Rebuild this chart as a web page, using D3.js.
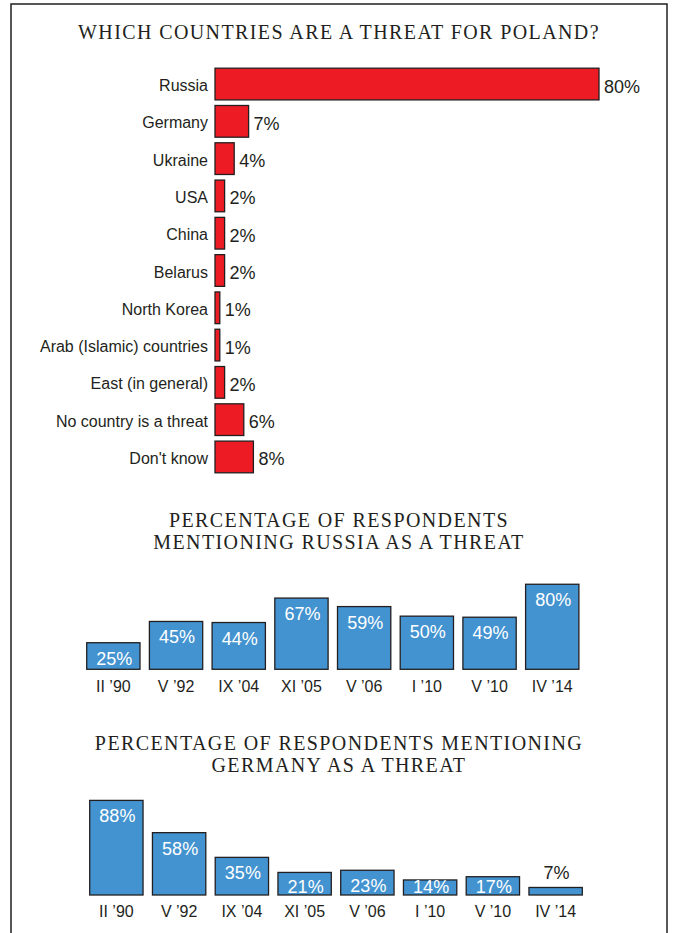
<!DOCTYPE html>
<html>
<head>
<meta charset="utf-8">
<script src="https://cdn.jsdelivr.net/npm/d3@7"></script>
<style>
  body { margin: 0; background: #fff; }
  svg { display: block; }
</style>
</head>
<body>
<script>
// Chart data
var threatCountries = ["Russia", "Germany", "Ukraine", "USA", "China", "Belarus", "North Korea",
  "Arab (Islamic) countries", "East (in general)", "No country is a threat", "Don't know"];
var threatValues = [80, 7, 4, 2, 2, 2, 1, 1, 2, 6, 8];

var surveyDates = ["II ’90", "V ’92", "IX ’04", "XI ’05", "V ’06", "I ’10", "V ’10", "IV ’14"];
var russiaValues = [25, 45, 44, 67, 59, 50, 49, 80];
var germanyValues = [88, 58, 35, 21, 23, 14, 17, 7];

var width = 675;
var height = 933;
var ink = "#231f20";
var red = "#ed1c24";
var blue = "#4393d0";
var sans = "'Liberation Sans', Arial, sans-serif";
var serif = "'Liberation Serif', 'Times New Roman', serif";

var svg = d3.select("body")
  .append("svg")
  .attr("width", width)
  .attr("height", height);

// Frame round the whole graphic (bottom edge falls outside the picture)
svg.append("rect")
  .attr("x", 11)
  .attr("y", 4)
  .attr("width", 656)
  .attr("height", 950)
  .attr("fill", "none")
  .attr("stroke", ink)
  .attr("stroke-width", 1.5);

// Titles, in serif caps
function title(lines, y0) {
  var t = svg.append("text")
    .attr("text-anchor", "middle")
    .attr("font-family", serif)
    .attr("font-size", 20)
    .attr("letter-spacing", 1.4)
    .attr("fill", ink);
  lines.forEach(function(line, i) {
    t.append("tspan")
      .attr("x", 339)
      .attr("y", y0 + i * 22)
      .text(line);
  });
}

title(["WHICH COUNTRIES ARE A THREAT FOR POLAND?"], 39);
title(["PERCENTAGE OF RESPONDENTS", "MENTIONING RUSSIA AS A THREAT"], 527);
title(["PERCENTAGE OF RESPONDENTS MENTIONING", "GERMANY AS A THREAT"], 750);

// ---- Top chart: horizontal bars ----
var xTop = d3.scaleLinear().domain([0, 100]).range([215, 695]);
var yTop = d3.scaleBand()
  .domain(threatCountries)
  .range([65.4, 475.6])
  .paddingInner(0.15)
  .paddingOuter(0.075);

var topData = threatCountries.map(function(c, i) { return { name: c, value: threatValues[i] }; });

svg.append("g")
  .selectAll("rect")
  .data(topData)
  .join("rect")
  .attr("x", xTop(0))
  .attr("y", function(d) { return yTop(d.name); })
  .attr("width", function(d) { return xTop(d.value) - xTop(0); })
  .attr("height", yTop.bandwidth())
  .attr("fill", red)
  .attr("stroke", ink)
  .attr("stroke-width", 1.3);

svg.append("g")
  .selectAll("text")
  .data(topData)
  .join("text")
  .attr("x", function(d) { return xTop(d.value) + 5; })
  .attr("y", function(d) { return yTop(d.name) + yTop.bandwidth() / 2 + 8.5; })
  .attr("font-family", sans)
  .attr("font-size", 18)
  .attr("fill", ink)
  .text(function(d) { return d.value + "%"; });

var catAxis = svg.append("g")
  .attr("transform", "translate(208,0)")
  .call(d3.axisLeft(yTop).tickSize(0).tickPadding(0));
catAxis.select(".domain").remove();
catAxis.selectAll("text")
  .attr("dy", "0.44em")
  .attr("font-family", sans)
  .attr("font-size", 16)
  .attr("fill", ink);

// ---- Column charts ----
function columns(values, x0, x1, base, pxPerPct) {
  var x = d3.scaleBand()
    .domain(surveyDates)
    .range([x0, x1])
    .paddingInner(0.15)
    .paddingOuter(0.075);
  var y = d3.scaleLinear().domain([0, 100]).range([base, base - 100 * pxPerPct]);
  var data = surveyDates.map(function(s, i) { return { date: s, value: values[i] }; });

  var g = svg.append("g");
  g.selectAll("rect")
    .data(data)
    .join("rect")
    .attr("x", function(d) { return x(d.date); })
    .attr("y", function(d) { return y(d.value); })
    .attr("width", x.bandwidth())
    .attr("height", function(d) { return y(0) - y(d.value); })
    .attr("fill", blue)
    .attr("stroke", ink)
    .attr("stroke-width", 1.3);

  g.selectAll("text.val")
    .data(data)
    .join("text")
    .attr("class", "val")
    .attr("x", function(d) { return x(d.date) + x.bandwidth() / 2 + 1; })
    .attr("y", function(d) {
      var top = y(d.value);
      if (y(0) - top < 12) return top - 8;
      return Math.min(top + 22, y(0) - 2.5);
    })
    .attr("text-anchor", "middle")
    .attr("font-family", sans)
    .attr("font-size", 18)
    .attr("fill", function(d) { return (y(0) - y(d.value) < 12) ? ink : "#fff"; })
    .text(function(d) { return d.value + "%"; });

  var ax = svg.append("g")
    .attr("transform", "translate(0," + base + ")")
    .call(d3.axisBottom(x).tickSize(0).tickPadding(11));
  ax.select(".domain").remove();
  ax.selectAll("text")
    .attr("font-family", sans)
    .attr("font-size", 16)
    .attr("fill", ink);
}

columns(russiaValues, 82, 583.6, 669.3, 1.063);
columns(germanyValues, 85, 587, 895, 1.075);
</script>
</body>
</html>
